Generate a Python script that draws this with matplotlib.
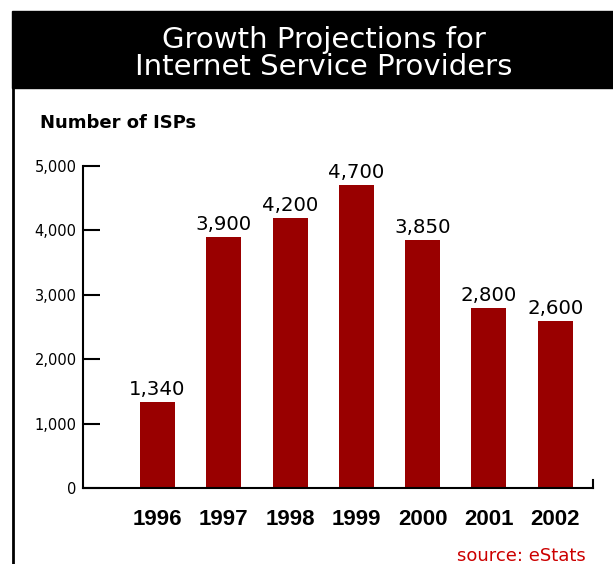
import matplotlib
matplotlib.use("Agg")
import matplotlib.pyplot as plt
from matplotlib.patches import Rectangle
from matplotlib.lines import Line2D

years = ["1996", "1997", "1998", "1999", "2000", "2001", "2002"]
isps = [1340, 3900, 4200, 4700, 3850, 2800, 2600]
value_labels = ["1,340", "3,900", "4,200", "4,700", "3,850", "2,800", "2,600"]
y_ticks = [0, 1000, 2000, 3000, 4000, 5000]
y_tick_labels = ["0", "1,000", "2,000", "3,000", "4,000", "5,000"]

W, H = 613, 564
fig = plt.figure(figsize=(W / 100, H / 100), dpi=100)
fig.patch.set_facecolor("white")
sans = "DejaVu Sans"
narrow = ["Liberation Sans Narrow", "Liberation Sans"]

def fx(px):
    return px / W

def fy(py):
    return 1 - py / H

# header band and frame line
fig.add_artist(Rectangle((fx(12), fy(88)), 1 - fx(12), (88 - 11) / H,
                         transform=fig.transFigure, color="black", zorder=0))
fig.add_artist(Line2D([fx(13), fx(13)], [fy(88), 0], transform=fig.transFigure,
                      color="black", lw=2))
fig.text(fx(324), fy(48), "Growth Projections for", color="white", fontsize=21,
         ha="center", va="baseline", family=sans)
fig.text(fx(324), fy(75), "Internet Service Providers", color="white", fontsize=21,
         ha="center", va="baseline", family=sans)
fig.text(fx(40), fy(128), "Number of ISPs", fontsize=13, fontweight="bold",
         ha="left", va="baseline", family=sans)
fig.text(fx(457), fy(561), "source: eStats", color="#cc0000", fontsize=13,
         ha="left", va="baseline", family=sans)

ax = fig.add_axes([fx(83), fy(488), fx(593) - fx(83), (488 - 166) / H])
x = range(len(years))
ax.bar(x, isps, width=0.53, color="#990000", zorder=2)
for xi, v, lab in zip(x, isps, value_labels):
    ax.annotate(lab, (xi, v), xytext=(0, 5), textcoords="offset points",
                ha="center", va="baseline", fontsize=14.2, family=sans)

ax.set_xlim(-1.124, 6.57)
ax.set_ylim(0, 5000)
ax.set_yticks(y_ticks)
ax.set_yticklabels(y_tick_labels, family=sans, fontsize=10.5)
ax.set_xticks(list(x))
ax.set_xticklabels(years, family=narrow, fontsize=16, fontweight="bold")
ax.tick_params(axis="y", direction="in", length=12, width=1.5, pad=4.5)
ax.tick_params(axis="x", length=0, pad=15)
for s in ["top", "right"]:
    ax.spines[s].set_visible(False)
ax.spines["left"].set_linewidth(1.5)
ax.spines["bottom"].set_linewidth(1.5)
ax.plot([1, 1], [0, 0.025], transform=ax.transAxes, color="black", lw=1.5,
        clip_on=False)

fig.savefig("out.png", dpi=100)
